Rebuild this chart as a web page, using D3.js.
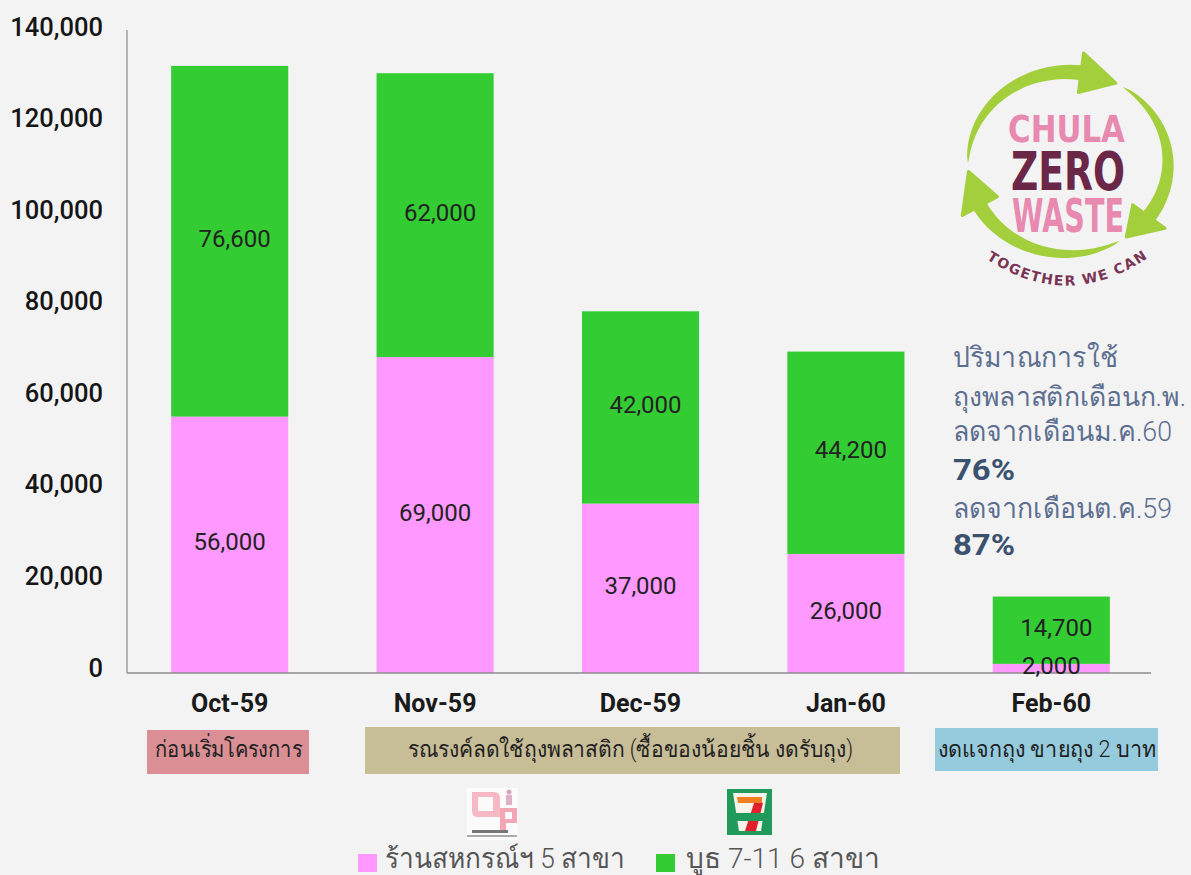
<!DOCTYPE html>
<html><head><meta charset="utf-8">
<script src="https://cdn.jsdelivr.net/npm/d3@7"></script>
<style>
html,body{margin:0;padding:0;background:#f3f3f3;}
svg{display:block;}
text{font-family:Roboto,"Noto Sans","Liberation Sans","DejaVu Sans",sans-serif;}
</style></head><body>
<script>
const months = ["Oct-59","Nov-59","Dec-59","Jan-60","Feb-60"];
const coopBags = [56000,69000,37000,26000,2000];
const sevenBags = [76600,62000,42000,44200,14700];
const yTicks = [0,20000,40000,60000,80000,100000,120000,140000];
const coopLegend = "ร้านสหกรณ์ฯ 5 สาขา";
const sevenLegend = "บูธ 7-11 6 สาขา";
const noteLines = ["ปริมาณการใช้","ถุงพลาสติกเดือนก.พ.","ลดจากเดือนม.ค.60","76%","ลดจากเดือนต.ค.59","87%"];
const phaseLabels = ["ก่อนเริ่มโครงการ","รณรงค์ลดใช้ถุงพลาสติก (ซื้อของน้อยชิ้น งดรับถุง)","งดแจกถุง ขายถุง 2 บาท"];

const W=1191,H=875;
const svg=d3.select("body").append("svg").attr("width",W).attr("height",H);
const x=d3.scaleBand().domain(months).range([127,1154]).paddingInner(0.43).paddingOuter(0.215);
const y=d3.scaleLinear().domain([0,140000]).range([673,32]);
const data=months.map((m,i)=>({m,coop:coopBags[i],seven:sevenBags[i]}));
const stacked=d3.stack().keys(["coop","seven"])(data);
const col={coop:"#ff99ff",seven:"#33cc33"};
svg.append("g").selectAll("g").data(stacked).join("g").attr("fill",d=>col[d.key])
 .selectAll("rect").data(d=>d).join("rect")
 .attr("x",d=>x(d.data.m)).attr("width",x.bandwidth())
 .attr("y",d=>y(d[1])).attr("height",d=>y(d[0])-y(d[1]));
// axes
const ya=svg.append("g").attr("transform","translate(127,0)").call(d3.axisLeft(y).tickValues(yTicks).tickSize(0).tickPadding(24).tickFormat(d3.format(",")));
ya.select(".domain").attr("stroke","#a0a0a0").attr("stroke-width",1.5).attr("d","M0,30V673");
ya.selectAll("text").attr("font-size",25.5).attr("font-weight",500).attr("fill","#151515").attr("dy","3px");
const xa=svg.append("g").attr("transform","translate(0,673)").call(d3.axisBottom(x).tickSize(0).tickPadding(21));
xa.select(".domain").attr("stroke","#8c8c8c").attr("stroke-width",1.5).attr("d","M127,0H1151");
xa.selectAll("text").attr("font-size",25).attr("font-weight",700).attr("fill","#1a1a1a");
// value labels, drawn over the axis
svg.append("g").selectAll("g").data(stacked).join("g")
 .selectAll("text").data((d,i)=>d.map(v=>({v,i}))).join("text")
 .attr("x",d=>x(d.v.data.m)+x.bandwidth()/2+(d.i?5:0))
 .attr("y",d=>(y(d.v[0])+y(d.v[1]))/2+5.5)
 .attr("text-anchor","middle").attr("font-size",24).attr("fill","#222")
 .text(d=>d3.format(",")(d.v[1]-d.v[0]));
// phases
const phases=[[147,309,730,774,"#d98f93",155,302],[365,900,727,774,"#c7bd96",408,853],[935,1158,728,771,"#95cbdd",938,1156]];
phases.forEach((p,i)=>{
 svg.append("rect").attr("x",p[0]).attr("y",p[2]).attr("width",p[1]-p[0]).attr("height",p[3]-p[2]).attr("fill",p[4]);
 svg.append("text").attr("x",p[5]).attr("y",757).attr("font-size",23).attr("font-weight",300).attr("fill","#222")
  .attr("textLength",p[6]-p[5]).attr("lengthAdjust","spacingAndGlyphs").text(phaseLabels[i]);
});
// note
const ny=[367,406,441,480,518,555];
const nw=[165,233,219,62,219,62];
const ns=[28,27,28,29,28,29];
noteLines.forEach((t,i)=>{const b=t.endsWith("%");
 svg.append("text").attr("x",953).attr("y",ny[i]).attr("font-size",ns[i]).attr("font-weight",b?700:300).attr("fill",b?"#3a5170":"#5d6f90")
  .attr("textLength",nw[i]).attr("lengthAdjust","spacingAndGlyphs").text(t);});
// legend
svg.append("rect").attr("x",358).attr("y",854).attr("width",19).attr("height",18).attr("fill",col.coop);
svg.append("text").attr("x",385).attr("y",868).attr("font-size",28).attr("font-weight",300).attr("fill","#555")
 .attr("textLength",240).attr("lengthAdjust","spacingAndGlyphs").text(coopLegend);
svg.append("rect").attr("x",656).attr("y",854).attr("width",19).attr("height",18).attr("fill",col.seven);
svg.append("text").attr("x",686).attr("y",868).attr("font-size",28).attr("font-weight",300).attr("fill","#555")
 .attr("textLength",194).attr("lengthAdjust","spacingAndGlyphs").text(sevenLegend);
// coop logo
const cl=svg.append("g");
cl.append("rect").attr("x",467).attr("y",788).attr("width",51).attr("height",52).attr("fill","#fbfbfb");
cl.append("path").attr("d","M472 792h22q6 0 6 6v19h-22q-6 0-6-6zM478 797v14h15v-14z").attr("fill","#f6b8c2").attr("fill-rule","evenodd");
cl.append("path").attr("d","M500 808h17v15h-11v7h-6zM505 812v7h7v-7z").attr("fill","#f4a6b6").attr("fill-rule","evenodd");
cl.append("circle").attr("cx",509).attr("cy",792).attr("r",2.5).attr("fill","#d9a4bd");
cl.append("rect").attr("x",506).attr("y",795).attr("width",6).attr("height",10).attr("fill","#e0b0c6");
cl.append("rect").attr("x",472).attr("y",830).attr("width",36).attr("height",3).attr("fill","#777");
cl.append("rect").attr("x",467).attr("y",835).attr("width",50).attr("height",2).attr("fill","#aaa");
// 7-eleven logo
const se=svg.append("g");
se.append("rect").attr("x",727).attr("y",789).attr("width",45).attr("height",46).attr("fill","#1f9a5a");
se.append("path").attr("d","M733 793H767L761 831H739Z").attr("fill","#f5f3ea");
se.append("path").attr("d","M737 797H762V803H738Z").attr("fill","#ef7f22");
se.append("path").attr("d","M754 803H763L756 831H745Z").attr("fill","#e0202a");
se.append("rect").attr("x",735).attr("y",813).attr("width",30).attr("height",8).attr("fill","#1f9a5a");
// chula logo
const lg=svg.append("g");
const cx=1068,cy=163,RX=100,RY=91;
const green="#a3cf3c";
function pt(a,k){return [cx+(RX+k)*Math.sin(a),cy-(RY+k)*Math.cos(a)];}
[[-1.57,0.13,0.5],[0.58,2.2,2.52],[2.6,4.22,4.62]].forEach(([a0,a1,tip])=>{
 const steps=30,pts=[];
 for(let i=0;i<=steps;i++){const t=i/steps;pts.push(pt(a0+(a1-a0)*t,7.5*Math.pow(t,0.6)));}
 for(let i=steps;i>=0;i--){const t=i/steps;pts.push(pt(a0+(a1-a0)*t,-7.5*Math.pow(t,0.6)));}
 lg.append("path").attr("d",d3.line()(pts)+"Z").attr("fill",green);
 lg.append("path").attr("d",d3.line()([pt(a1,20),pt(tip,0),pt(a1,-20)])+"Z").attr("fill",green).attr("stroke",green).attr("stroke-width",3).attr("stroke-linejoin","round");
});
function lt(t,yy,fs,fill,x0,len){lg.append("text").attr("x",x0).attr("y",yy).style("font-family","'DejaVu Sans',sans-serif").attr("font-weight",700).attr("font-size",fs).attr("fill",fill).attr("textLength",len).attr("lengthAdjust","spacingAndGlyphs").text(t);}
lt("CHULA",142,37,"#e889b0",1008,117);
lt("ZERO",190,54,"#6b2748",1011,114);
lt("WASTE",232,46,"#e889b0",1012,112);
const defs=svg.append("defs");
defs.append("path").attr("id","cv").attr("d","M 970 247 Q 1068 325 1165 245");
lg.append("text").style("font-family","'DejaVu Sans',sans-serif").attr("font-weight",700).attr("font-size",14).attr("fill","#7a3355").attr("letter-spacing",1.5)
 .append("textPath").attr("href","#cv").attr("startOffset","50%").attr("text-anchor","middle").text("TOGETHER WE CAN");
</script></body></html>
